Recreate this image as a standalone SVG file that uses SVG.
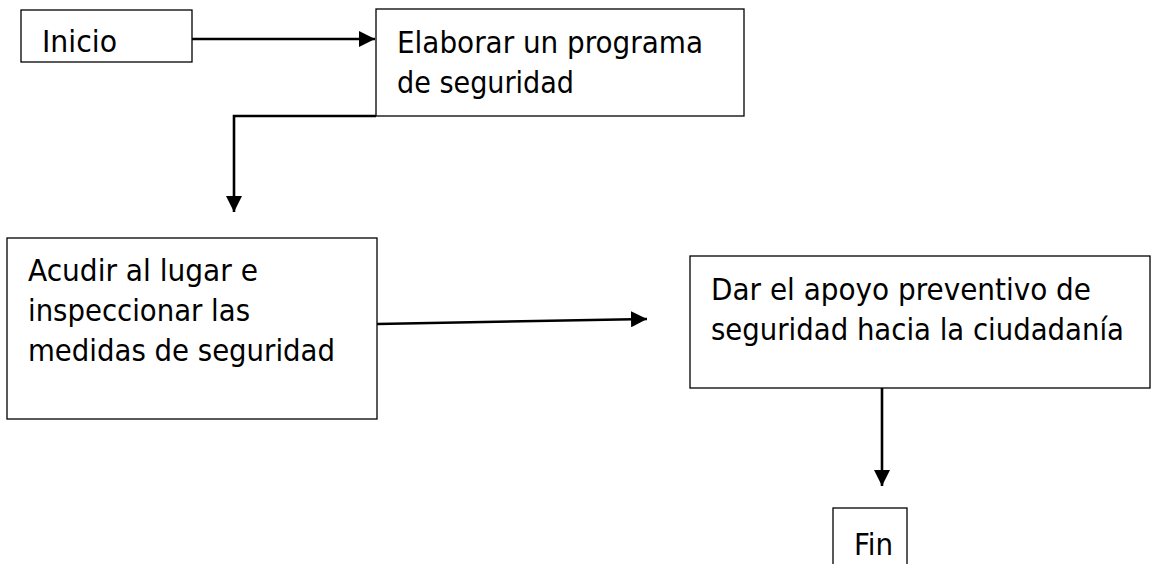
<svg xmlns="http://www.w3.org/2000/svg" width="1153" height="564" viewBox="0 0 1153 564">
<style>
.box{fill:#fff;stroke:#000;stroke-width:1.3}
.t{font-family:"DejaVu Sans Condensed","DejaVu Sans",sans-serif;font-stretch:condensed;font-size:30px;fill:#000}
.c{fill:none;stroke:#000;stroke-width:2.6}
</style>
<defs>
<marker id="ah" markerUnits="userSpaceOnUse" viewBox="0 0 16 16" markerWidth="16" markerHeight="16" refX="16" refY="8" orient="auto">
<path d="M0,0 L16,8 L0,16 Z" fill="#000"/>
</marker>
</defs>
<rect width="1153" height="564" fill="#fff"/>
<g id="n1">
<rect class="box" x="21" y="10" width="171" height="52"/>
<text class="t" x="42" y="52" textLength="75" lengthAdjust="spacingAndGlyphs">Inicio</text>
</g>
<g id="n2">
<rect class="box" x="376" y="9" width="368" height="107"/>
<text class="t" x="397" y="53" textLength="306" lengthAdjust="spacingAndGlyphs">Elaborar un programa</text>
<text class="t" x="397" y="93" textLength="177" lengthAdjust="spacingAndGlyphs">de seguridad</text>
</g>
<g id="n3">
<rect class="box" x="7" y="238" width="370" height="181"/>
<text class="t" x="28" y="281" textLength="230" lengthAdjust="spacingAndGlyphs">Acudir al lugar e</text>
<text class="t" x="28" y="321" textLength="222" lengthAdjust="spacingAndGlyphs">inspeccionar las</text>
<text class="t" x="28" y="361" textLength="307" lengthAdjust="spacingAndGlyphs">medidas de seguridad</text>
</g>
<g id="n4">
<rect class="box" x="690" y="256" width="460" height="132"/>
<text class="t" x="711" y="300" textLength="380" lengthAdjust="spacingAndGlyphs">Dar el apoyo preventivo de</text>
<text class="t" x="711" y="340" textLength="413" lengthAdjust="spacingAndGlyphs">seguridad hacia la ciudadanía</text>
</g>
<g id="n5">
<rect class="box" x="833" y="508" width="74" height="70"/>
<text class="t" x="854" y="555" textLength="39" lengthAdjust="spacingAndGlyphs">Fin</text>
</g>
<g id="connectors">
<path class="c" d="M192,39 L375,39" marker-end="url(#ah)"/>
<path class="c" d="M376,116 L234,116 L234,212" marker-end="url(#ah)"/>
<path class="c" d="M377,324 L647,319" marker-end="url(#ah)"/>
<path class="c" d="M882,388 L882,486" marker-end="url(#ah)"/>
</g>
</svg>
